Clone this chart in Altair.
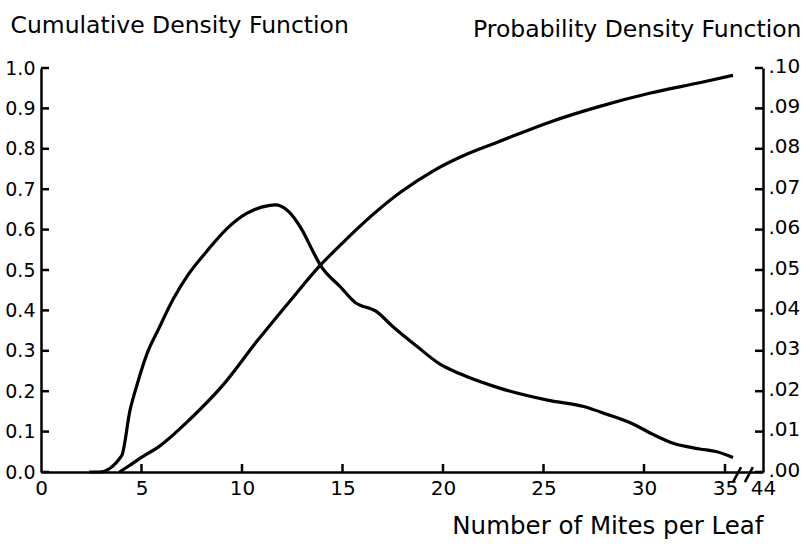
import altair as alt
import pandas as pd

# ---- data ----
cdf_x = [3.9, 4.4, 4.9, 5.9, 7.4, 9.05, 10.75, 12.4, 13.9, 14.9, 15.9, 17.9, 19.5, 21.2, 22.8, 25.3, 27.8, 30.4, 33.5, 36.9]
cdf_y = [0.0, 0.016, 0.033, 0.064, 0.130, 0.215, 0.324, 0.424, 0.512, 0.562, 0.610, 0.693, 0.745, 0.787, 0.818, 0.866, 0.905, 0.938, 0.964, 0.982]

pdf_x = [2.4, 2.9, 4.01, 4.43, 4.76, 5.29, 5.84, 6.58, 7.33, 8.24, 9.24, 10.23, 11.39, 11.65, 12.25, 13.0, 13.5,
         13.9, 14.9, 15.6, 16.7, 17.5, 18.7, 19.85, 20.85, 22.85, 25.2, 27.0, 28.15, 29.45, 30.55, 31.8, 33.45,
         34.5, 36.9]
pdf_y = [0.0, 0.0, 0.0040, 0.0153, 0.0213, 0.0295, 0.0353, 0.0428, 0.0489, 0.0546, 0.0602, 0.0640, 0.0660, 0.0661,
         0.0648, 0.0598, 0.0549, 0.0512, 0.0458, 0.0421, 0.0397, 0.0360, 0.0311, 0.0267, 0.0243, 0.0207, 0.0178,
         0.0162, 0.0143, 0.0119, 0.0093, 0.0071, 0.0057, 0.0050, 0.0036]

x_ticks = [0, 5, 10, 15, 20, 25, 30, 35, 44]
x_inner_ticks = [5, 10, 15, 20, 25, 30, 35]
cdf_ticks = [0.0, 0.1, 0.2, 0.3, 0.4, 0.5, 0.6, 0.7, 0.8, 0.9, 1.0]
pdf_ticks = [0.00, 0.01, 0.02, 0.03, 0.04, 0.05, 0.06, 0.07, 0.08, 0.09, 0.10]

# axis break slashes (x in data units, y in CDF units)
brk_x = [36.9, 39.7]
brk_x2 = [38.8, 41.6]
brk_y = [-0.025, -0.025]
brk_y2 = [0.012, 0.012]

cdf_df = pd.DataFrame({"x": cdf_x, "cdf": cdf_y})
pdf_df = pd.DataFrame({"x": pdf_x, "pdf": pdf_y})
brk_df = pd.DataFrame({"x": brk_x, "x2": brk_x2, "y": brk_y, "y2": brk_y2})
xt_df = pd.DataFrame({"x": x_inner_ticks})
lt_df = pd.DataFrame({"v": cdf_ticks})
rt_df = pd.DataFrame({"v": pdf_ticks})

FONT = "DejaVu Sans"
W, H = 722, 404
TICK = 8

xscale = alt.Scale(domain=[0, 30, 35, 44], range=[0, 603, 684, 722], nice=False, zero=False)
y1 = alt.Scale(domain=[0, 1], nice=False, zero=True)
y2 = alt.Scale(domain=[0, 0.1], nice=False, zero=True)

common_axis = dict(domainColor="black", labelColor="black", titleColor="black",
                   labelFont=FONT, titleFont=FONT, grid=False, ticks=False, domainWidth=2.5,
                   labelFlush=False, labelOverlap=False, titleFontWeight="normal",
                   titleBaseline="alphabetic", titleAngle=0)

x_main = alt.Axis(values=x_ticks, orient="bottom", labelFontSize=20, labelPadding=6, format="d",
                  title="Number of Mites per Leaf", titleFontSize=24.5,
                  titleAlign="right", titleAnchor="end", titleX=722, titleY=61, **common_axis)

y_left_main = alt.Axis(values=cdf_ticks, orient="left", labelFontSize=19, labelPadding=6, format=".1f",
                       title="Cumulative Density Function", titleFontSize=23.5,
                       titleAlign="left", titleAnchor="start", titleX=-31, titleY=-36, **common_axis)

y_right_main = alt.Axis(values=pdf_ticks, orient="right", labelFontSize=20, labelPadding=5, labelOffset=-2,
                        labelExpr="substring(format(datum.value, '.2f'), 1)",
                        title="Probability Density Function", titleFontSize=23.5,
                        titleAlign="right", titleAnchor="start", titleX=38, titleY=-32, **common_axis)

cdf_line = alt.Chart(cdf_df).mark_line(color="black", strokeWidth=3.2, interpolate="monotone").encode(
    x=alt.X("x:Q", scale=xscale, axis=x_main),
    y=alt.Y("cdf:Q", scale=y1, axis=y_left_main),
)
pdf_line = alt.Chart(pdf_df).mark_line(color="black", strokeWidth=3.2, interpolate="monotone").encode(
    x=alt.X("x:Q", scale=xscale, axis=None),
    y=alt.Y("pdf:Q", scale=y2, axis=y_right_main),
)
# inward-pointing tick marks
x_tick_marks = alt.Chart(xt_df).mark_rule(color="black", strokeWidth=2.5).encode(
    x=alt.X("x:Q", scale=xscale, axis=None),
    y=alt.value(H),
    y2=alt.value(H - TICK),
)
left_tick_marks = alt.Chart(lt_df).mark_rule(color="black", strokeWidth=2.5).encode(
    y=alt.Y("v:Q", scale=y1, axis=None),
    x=alt.value(0),
    x2=alt.value(TICK),
)
right_tick_marks = alt.Chart(rt_df).mark_rule(color="black", strokeWidth=2.5).encode(
    y=alt.Y("v:Q", scale=y2, axis=None),
    x=alt.value(W),
    x2=alt.value(W - TICK),
)
breaks = alt.Chart(brk_df).mark_rule(color="black", strokeWidth=2.5).encode(
    x=alt.X("x:Q", scale=xscale, axis=None),
    x2="x2:Q",
    y=alt.Y("y:Q", scale=y1, axis=None),
    y2="y2:Q",
)

chart = alt.layer(
    cdf_line, pdf_line, x_tick_marks, left_tick_marks, right_tick_marks, breaks
).resolve_scale(
    y="independent"
).resolve_axis(
    x="independent", y="independent"
).properties(
    width=W, height=H,
    autosize=alt.AutoSizeParams(type="none"),
    padding={"left": 41, "top": 68, "right": 43, "bottom": 75},
    background="white",
).configure_view(stroke=None)

chart.save("out.html", embed_options={"renderer": "svg", "actions": False})
